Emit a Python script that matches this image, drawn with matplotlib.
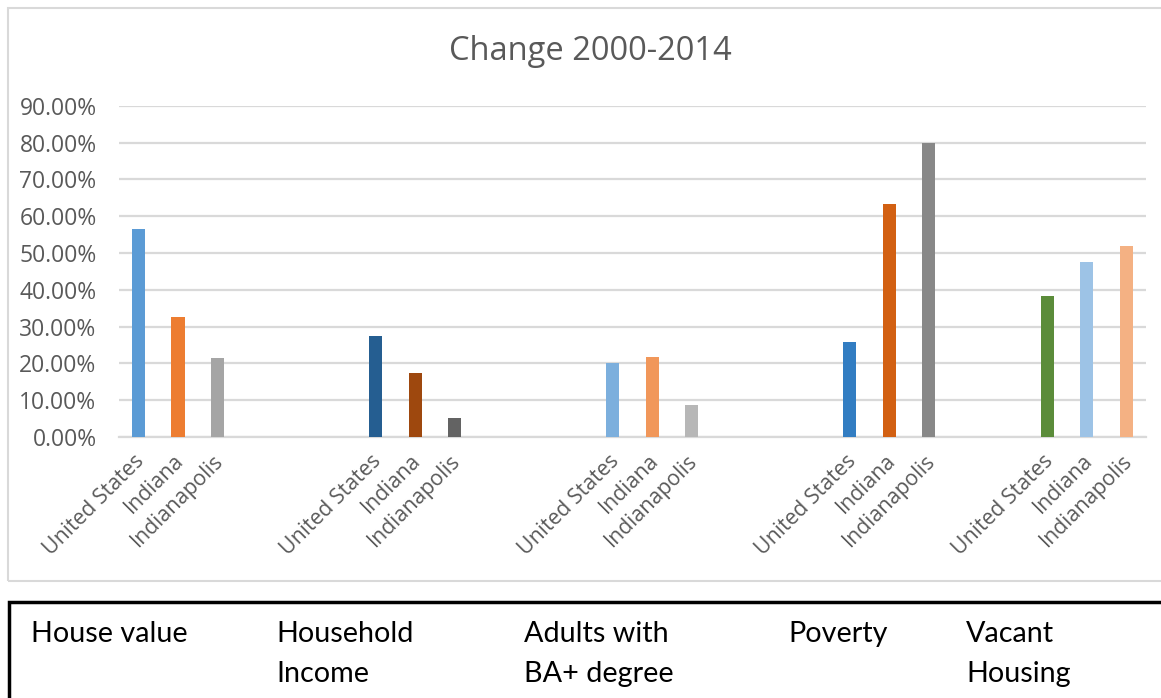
import numpy as np
import matplotlib.pyplot as plt
from matplotlib.ticker import PercentFormatter
from matplotlib.patches import Rectangle
from matplotlib.transforms import ScaledTranslation

# values (fraction change 2000-2014)
places = ['United States', 'Indiana', 'Indianapolis']
house_value = [0.565, 0.326, 0.215]
household_income = [0.275, 0.174, 0.052]
adults_ba = [0.200, 0.217, 0.086]
poverty = [0.257, 0.633, 0.799]
vacant_housing = [0.382, 0.475, 0.518]
groups = ['House value', 'Household\nIncome', 'Adults with\nBA+ degree', 'Poverty', 'Vacant\nHousing']

colors = [
    ['#5B9BD5', '#ED7D31', '#A5A5A5'],
    ['#255E91', '#9E480E', '#636363'],
    ['#7CAFDD', '#F1975A', '#B7B7B7'],
    ['#327DC2', '#D26012', '#888888'],
    ['#5B8C3A', '#9DC3E6', '#F4B183'],
]
gaps = [3, 3, 3, 2]  # blank categories between groups (as in the excel sheet)

series = [house_value, household_income, adults_ba, poverty, vacant_housing]

# build the flat category list like the sheet: 3 places then blanks
labels, vals, cols = [], [], []
for g, s in enumerate(series):
    for k in range(3):
        labels.append(places[k]); vals.append(s[k]); cols.append(colors[g][k])
    if g < len(gaps):
        for b in range(gaps[g]):
            labels.append(''); vals.append(0.0); cols.append('none')
x = np.arange(len(labels))

W, H = 1161, 698
fig = plt.figure(figsize=(W / 100, H / 100), dpi=100)
plt.rcParams['font.family'] = ['Open Sans', 'DejaVu Sans']
grey = '#595959'

ax = fig.add_axes([118.75 / W, 1 - 437 / H, (1146 - 118.75) / W, (437 - 105.7) / H])
ax.bar(x, vals, width=0.33, color=cols, zorder=3)
ax.set_xlim(-0.5, len(labels) - 0.5)
ax.set_ylim(0, 0.9)
ax.set_yticks(np.arange(0, 0.91, 0.1))
ax.yaxis.set_major_formatter(PercentFormatter(xmax=1, decimals=2))
ax.grid(axis='y', color='#D9D9D9', linewidth=1.6, zorder=0)
for sp in ['top', 'right', 'left']:
    ax.spines[sp].set_visible(False)
ax.spines['bottom'].set_color('#D9D9D9')
ax.spines['bottom'].set_linewidth(1.6)
ax.tick_params(axis='y', length=0, pad=16, labelsize=16.5, labelcolor=grey)
ax.tick_params(axis='x', length=0, pad=15, labelsize=15.3, labelcolor=grey)
ax.set_xticks(x)
ax.set_xticklabels(labels, rotation=45, ha='right', va='center', rotation_mode='anchor')
off = ScaledTranslation(0.03, 0, fig.dpi_scale_trans)
for t in ax.get_xticklabels():
    t.set_transform(t.get_transform() + off)

fig.text(590 / W, 1 - 52 / H, 'Change 2000-2014', ha='center', va='center', fontsize=23.5, color=grey)

# chart border
fig.patches.append(Rectangle((8 / W, 1 - 581 / H), 1.2, 573 / H, transform=fig.transFigure,
                             fill=False, edgecolor='#D9D9D9', linewidth=1.5))
# text box under the chart
fig.patches.append(Rectangle((8.5 / W, -0.2), 1.2, 0.2 + 1 - 602 / H, transform=fig.transFigure,
                             fill=False, edgecolor='black', linewidth=2.5))
box_x = [31, 276, 524, 788, 966]
for gx, name in zip(box_x, groups):
    fig.text(gx / W, 1 - 621 / H, name, ha='left', va='top', fontsize=20.7, color='black',
             family=['Lato', 'DejaVu Sans'], linespacing=1.68)

fig.savefig('out.png', dpi=100)
